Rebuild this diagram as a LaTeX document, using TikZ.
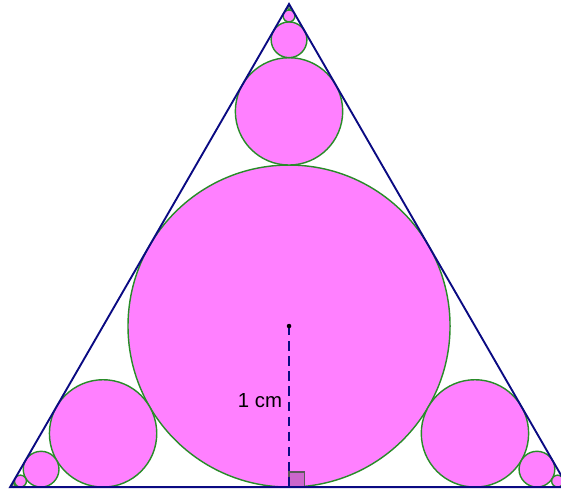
\documentclass[tikz,border=0pt]{standalone}
\usepackage{fontspec}
\setmainfont{Liberation Sans}
\usetikzlibrary{calc}
\definecolor{diskfill}{RGB}{255,128,255}
\definecolor{diskedge}{RGB}{40,140,40}
\definecolor{triedge}{RGB}{10,10,130}
\definecolor{markfill}{RGB}{204,102,204}
\tikzset{
    disk/.style={fill=diskfill, draw=diskedge, line width=0.75pt},
    triline/.style={draw=triedge, line width=1pt},
    radline/.style={draw=triedge, line width=0.9pt, dash pattern=on 5pt off 3pt},
    rightmark/.style={fill=markfill, draw=black!65, line width=0.8pt}
}
\begin{document}
\begin{tikzpicture}[x=3cm,y=3cm]
    \useasboundingbox (-1.795,-1.006) rectangle (1.689,2.025);
    \coordinate (A) at (0,2);
    \coordinate (B) at ({-sqrt(3)},-1);
    \coordinate (C) at ({sqrt(3)},-1);
    \coordinate (O) at (0,0);
    \coordinate (F) at (0,-1);

    % incircle, radius 1
    \filldraw[disk] (O) circle (1);
    % corner circles, each one third of the one before
    \foreach \v in {A,B,C} {
        \foreach \k in {1,...,4} {
            \pgfmathsetmacro{\r}{3^(-\k)}
            \filldraw[disk] ($(\v)!\r!(O)$) circle (\r);
        }
    }

    \filldraw[rightmark] (F) rectangle ++(0.095,0.095);
    \draw[radline] (O) -- (F);
    \fill (O) circle (1.2pt);
    \node (lbl) at (-0.18,-0.46) {\fontsize{10.8}{12}\selectfont 1 cm};

    \draw[triline] (A) -- (B) -- (C) -- cycle;
\end{tikzpicture}
\end{document}
